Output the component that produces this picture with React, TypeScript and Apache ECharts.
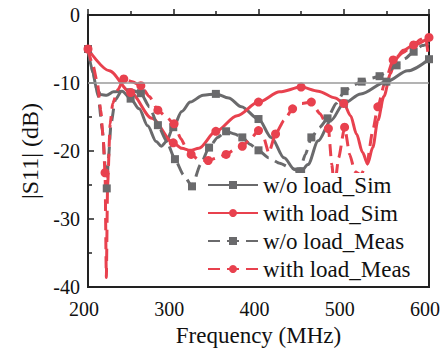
import React, { useEffect, useRef } from "react";
import * as echarts from "echarts";

const seriesNames = ["w/o load_Sim", "with load_Sim", "w/o load_Meas", "with load_Meas"];

// w/o load_Sim
const simNoLoadFreq = [200, 205, 210, 215, 222, 230, 240, 250, 260, 270, 280, 286, 292, 300, 310, 320, 335, 350, 365, 380, 400, 415, 430, 442, 450, 458, 470, 485, 500, 520, 550, 575, 600];
const simNoLoadS11 = [-5, -8, -10.8, -11.7, -11.8, -11.3, -11.2, -12.3, -13.8, -16.3, -18.6, -19.3, -18.6, -16.5, -14.2, -12.8, -11.8, -11.6, -12.2, -13.5, -15.3, -18, -21, -22.7, -23, -22, -18.5, -15.5, -13, -11.6, -9.8, -8.2, -6.5];
const simNoLoadMarks = [200, 250, 300, 350, 400, 450, 500, 550, 600];

// with load_Sim
const simLoadFreq = [200, 225, 250, 275, 300, 310, 320, 330, 350, 375, 400, 425, 450, 470, 490, 500, 508, 515, 522, 528, 534, 540, 547, 555, 560, 570, 582, 600];
const simLoadS11 = [-5, -8.2, -11.4, -15.2, -18.8, -19.6, -19.9, -19.6, -17.1, -14.8, -12.8, -11.3, -10.6, -11.2, -12.2, -13, -14.8, -17.5, -20.2, -21.9, -19.5, -15.5, -12, -8.6, -6.6, -5.2, -4.4, -3.3];
const simLoadMarks = [200, 250, 300, 350, 400, 450, 500, 600];

// w/o load_Meas
const measNoLoadFreq = [200, 206, 212, 217, 220, 222, 224, 227, 232, 240, 250, 262, 272, 282, 292, 302, 312, 322, 332, 342, 352, 362, 372, 381, 390, 400, 412, 425, 438, 448, 455, 462, 472, 481, 491, 501, 511, 521, 532, 542, 552, 562, 572, 582, 592, 600];
const measNoLoadS11 = [-5, -8.5, -12, -17, -22, -25.5, -21, -16, -12.5, -11, -11, -11.5, -13.5, -16.2, -18.5, -21.2, -23.5, -25.2, -22, -19.5, -18, -17.1, -17.5, -18, -19, -19.9, -21, -21.8, -22.5, -23, -20.5, -18, -16.5, -15.2, -13, -11.2, -10.3, -9.8, -9.3, -9, -8.2, -7.4, -6.4, -5.4, -4.5, -4.2];
const measNoLoadMarks = [222, 262, 282, 302, 322, 342, 362, 381, 400, 448, 462, 481, 501, 521, 542, 562, 582];

// with load_Meas
const measLoadFreq = [200, 206, 211, 215, 218, 220, 221.5, 223, 226, 229, 235, 242, 252, 262, 272, 282, 292, 301, 309, 315, 321, 330, 341, 352, 362, 372, 381, 392, 400, 406, 412, 420, 430, 440, 451, 462, 472, 482, 486, 489, 494, 501, 507, 513, 520, 527, 534, 540, 548, 558, 570, 582, 590, 596, 600];
const measLoadS11 = [-5, -7.5, -10, -14, -18.5, -23.2, -38.6, -25, -16, -13, -11, -9.4, -9.8, -10.4, -12, -14, -15, -16, -18.2, -19.5, -20.5, -21.3, -21.4, -21, -20.5, -19.8, -19.3, -18, -17, -18, -20.3, -17.5, -15.5, -13.8, -13, -12.8, -14.5, -16.7, -22, -25.5, -21, -16.5, -20.5, -23, -23.5, -22, -17, -13.5, -10, -6.6, -5.5, -4.4, -3.6, -3.2, -7];
const measLoadMarks = [220, 242, 262, 282, 301, 321, 341, 362, 381, 400, 420, 440, 462, 482, 501, 540, 558, 582];

const refLevel = -10;

const GRAY = "#6a6a6c";
const RED = "#e8414e";
const FONT = "'Liberation Serif', 'Times New Roman', 'DejaVu Serif', serif";

function buildData(freq: number[], s11: number[], marks: number[]) {
  return freq.map((f, i) =>
    marks.includes(f) ? { value: [f, s11[i]] } : { value: [f, s11[i]], symbol: "none" }
  );
}

export default function App() {
  const ref = useRef<HTMLDivElement>(null);
  useEffect(() => {
    if (!ref.current) return;
    const chart = echarts.init(ref.current, undefined, { renderer: "svg" });
    const mkSeries = (
      name: string,
      color: string,
      dashed: boolean,
      symbol: string,
      size: number,
      data: any[],
      extra: any = {}
    ) => ({
      name,
      type: "line",
      data,
      smooth: dashed ? 0.2 : 0.3,
      smoothMonotone: "x",
      showSymbol: true,
      symbol,
      symbolSize: size,
      color,
      itemStyle: { color },
      lineStyle: { color, width: 3, type: dashed ? [12, 7] : "solid" },
      clip: true,
      ...extra,
    });
    chart.setOption({
      animation: false,
      backgroundColor: "#fff",
      textStyle: { fontFamily: FONT },
      grid: {
        left: 88,
        right: 15,
        top: 15,
        bottom: 63,
        containLabel: false,
        outerBoundsMode: "none",
        show: true,
        borderColor: "#222",
        borderWidth: 2,
      },
      legend: {
        orient: "vertical",
        left: 201,
        top: 173,
        itemWidth: 50,
        itemHeight: 10,
        itemGap: 4,
        backgroundColor: "#fff",
        padding: [0, 8, 2, 6],
        textStyle: { fontFamily: FONT, fontSize: 23, color: "#111", lineHeight: 24 },
        data: seriesNames,
      },
      xAxis: {
        type: "value",
        min: 200,
        max: 600,
        interval: 100,
        name: "Frequency (MHz)",
        nameLocation: "middle",
        nameGap: 36,
        nameTextStyle: { fontFamily: FONT, fontSize: 23, color: "#111", lineHeight: 24 },
        axisLine: { lineStyle: { color: "#222", width: 2 } },
        axisTick: { inside: true, length: 6, lineStyle: { color: "#222", width: 1.5 } },
        minorTick: { show: true, splitNumber: 2, length: 4, lineStyle: { color: "#222", width: 1.5 } },
        axisLabel: { fontFamily: FONT, fontSize: 20, color: "#111", margin: 12, padding: [0, 8, 0, 0] },
        splitLine: { show: false },
      },
      yAxis: {
        type: "value",
        min: -40,
        max: 0,
        interval: 10,
        name: "|S11| (dB)",
        nameLocation: "middle",
        nameGap: 34,
        nameRotate: 90,
        nameTextStyle: { fontFamily: FONT, fontSize: 24, color: "#111" },
        axisLine: { lineStyle: { color: "#222", width: 2 } },
        axisTick: { inside: true, length: 6, lineStyle: { color: "#222", width: 1.5 } },
        minorTick: { show: true, splitNumber: 2, length: 4, lineStyle: { color: "#222", width: 1.5 } },
        axisLabel: { fontFamily: FONT, fontSize: 20, color: "#111", margin: 8, padding: [6, 0, 0, 0] },
        splitLine: { show: false },
      },
      series: [
        mkSeries(seriesNames[0], GRAY, false, "rect", 8, buildData(simNoLoadFreq, simNoLoadS11, simNoLoadMarks), {
          markLine: {
            silent: true,
            symbol: "none",
            label: { show: false },
            lineStyle: { color: "#9a9a9a", width: 1.5, type: "solid" },
            data: [{ yAxis: refLevel }],
          },
        }),
        mkSeries(seriesNames[1], RED, false, "circle", 9, buildData(simLoadFreq, simLoadS11, simLoadMarks)),
        mkSeries(seriesNames[2], GRAY, true, "rect", 8, buildData(measNoLoadFreq, measNoLoadS11, measNoLoadMarks)),
        mkSeries(seriesNames[3], RED, true, "circle", 9, buildData(measLoadFreq, measLoadS11, measLoadMarks)),
      ],
    });
    return () => chart.dispose();
  }, []);
  return (
    <div
      ref={ref}
      style={{ position: "fixed", left: 0, top: 0, width: 444, height: 350 }}
    />
  );
}
